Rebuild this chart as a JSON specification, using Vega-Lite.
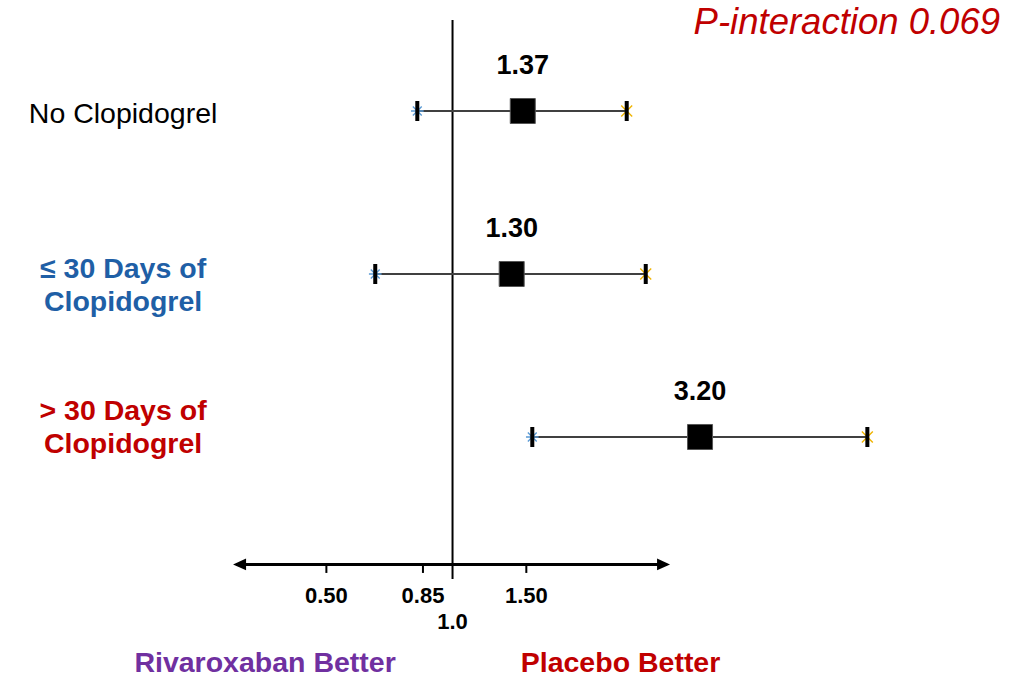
{
  "$schema": "https://vega.github.io/schema/vega-lite/v6.json",
  "width": 1012,
  "height": 685,
  "padding": 0,
  "autosize": "none",
  "background": "white",
  "config": {"view": {"stroke": null}, "axis": {"disable": true}, "font": "Liberation Sans"},
  "datasets": {
    "rows": [
      {"group": "No Clopidogrel", "label": "No Clopidogrel", "row": 1, "est": 1.471, "lo": 0.824, "hi": 2.604, "hrText": "1.37"},
      {"group": "<=30 days", "label": "≤ 30 Days of\nClopidogrel", "row": 2, "est": 1.384, "lo": 0.654, "hi": 2.891, "hrText": "1.30"},
      {"group": ">30 days", "label": "> 30 Days of\nClopidogrel", "row": 3, "est": 3.896, "lo": 1.55, "hi": 9.77, "hrText": "3.20"}
    ],
    "ticks": [
      {"value": 0.5, "text": "0.50", "line": 1},
      {"value": 0.85, "text": "0.85", "line": 1},
      {"value": 1.5, "text": "1.50", "line": 1},
      {"value": 1.0, "text": "1.0", "line": 2}
    ],
    "one": [{}]
  },
  "data": {"name": "rows"},
  "layer": [
    {
      "data": {"name": "one"},
      "mark": {"type": "rule", "color": "black", "strokeWidth": 2},
      "encoding": {
        "x": {"datum": 1, "type": "quantitative", "scale": {"type": "log", "domain": [0.0832, 21.63], "nice": false}, "axis": null},
        "y": {"datum": 0.4417, "type": "quantitative", "scale": {"domain": [0.319, 4.5215], "reverse": true, "nice": false, "zero": false}, "axis": null},
        "y2": {"datum": 3.871}
      }
    },
    {
      "mark": {"type": "rule", "color": "#404040", "strokeWidth": 2},
      "encoding": {
        "x": {"field": "lo", "type": "quantitative"},
        "x2": {"field": "hi"},
        "y": {"field": "row", "type": "quantitative"}
      }
    },
    {
      "mark": {"type": "point", "shape": "M-1,0L1,0M0,-1L0,1M-0.7,-0.7L0.7,0.7M-0.7,0.7L0.7,-0.7", "filled": false, "size": 160, "strokeWidth": 1.4, "color": "#5B9BD5", "opacity": 1},
      "encoding": {
        "x": {"field": "lo", "type": "quantitative"},
        "y": {"field": "row", "type": "quantitative"}
      }
    },
    {
      "mark": {"type": "point", "shape": "M-1,-1L1,1M-1,1L1,-1", "filled": false, "size": 120, "strokeWidth": 1.4, "color": "#F0B400", "opacity": 1},
      "encoding": {
        "x": {"field": "hi", "type": "quantitative"},
        "y": {"field": "row", "type": "quantitative"}
      }
    },
    {
      "mark": {"type": "tick", "orient": "vertical", "thickness": 4, "size": 20, "color": "black", "opacity": 1},
      "encoding": {
        "x": {"field": "lo", "type": "quantitative"},
        "y": {"field": "row", "type": "quantitative"}
      }
    },
    {
      "mark": {"type": "tick", "orient": "vertical", "thickness": 4, "size": 20, "color": "black", "opacity": 1},
      "encoding": {
        "x": {"field": "hi", "type": "quantitative"},
        "y": {"field": "row", "type": "quantitative"}
      }
    },
    {
      "mark": {"type": "point", "shape": "square", "filled": true, "size": 625, "color": "black", "stroke": "#555555", "strokeWidth": 1, "opacity": 1},
      "encoding": {
        "x": {"field": "est", "type": "quantitative"},
        "y": {"field": "row", "type": "quantitative"}
      }
    },
    {
      "mark": {"type": "text", "fontSize": 27, "fontWeight": "bold", "color": "black", "baseline": "middle", "align": "center", "dy": -45},
      "encoding": {
        "x": {"field": "est", "type": "quantitative"},
        "y": {"field": "row", "type": "quantitative"},
        "text": {"field": "hrText"}
      }
    },
    {
      "transform": [{"filter": "datum.row == 1"}],
      "mark": {"type": "text", "fontSize": 28.5, "fontWeight": "normal", "baseline": "middle", "align": "center", "dy": 3},
      "encoding": {
        "x": {"datum": 0.1636, "type": "quantitative"},
        "y": {"field": "row", "type": "quantitative"},
        "text": {"field": "label"},
        "color": {"field": "group", "type": "nominal", "scale": {"domain": ["No Clopidogrel", "<=30 days", ">30 days"], "range": ["#000000", "#1F5FA6", "#C00000"]}, "legend": null}
      }
    },
    {
      "transform": [{"filter": "datum.row == 2"}],
      "mark": {"type": "text", "fontSize": 28.5, "fontWeight": "bold", "baseline": "middle", "align": "center", "lineBreak": "\n", "lineHeight": 33, "dy": -5},
      "encoding": {
        "x": {"datum": 0.1636, "type": "quantitative"},
        "y": {"field": "row", "type": "quantitative"},
        "text": {"field": "label"},
        "color": {"field": "group", "type": "nominal", "legend": null}
      }
    },
    {
      "transform": [{"filter": "datum.row == 3"}],
      "mark": {"type": "text", "fontSize": 28.5, "fontWeight": "bold", "baseline": "middle", "align": "center", "lineBreak": "\n", "lineHeight": 33, "dy": -26},
      "encoding": {
        "x": {"datum": 0.1636, "type": "quantitative"},
        "y": {"field": "row", "type": "quantitative"},
        "text": {"field": "label"},
        "color": {"field": "group", "type": "nominal", "legend": null}
      }
    },
    {
      "data": {"name": "one"},
      "mark": {"type": "rule", "color": "black", "strokeWidth": 3},
      "encoding": {
        "x": {"datum": 0.305, "type": "quantitative"},
        "x2": {"datum": 3.25},
        "y": {"datum": 3.782, "type": "quantitative"}
      }
    },
    {
      "data": {"name": "one"},
      "mark": {"type": "point", "shape": "M-1,0L1,-0.9L1,0.9Z", "filled": true, "size": 169, "color": "black", "opacity": 1},
      "encoding": {
        "x": {"datum": 0.3103, "type": "quantitative"},
        "y": {"datum": 3.782, "type": "quantitative"}
      }
    },
    {
      "data": {"name": "one"},
      "mark": {"type": "point", "shape": "M1,0L-1,-0.9L-1,0.9Z", "filled": true, "size": 169, "color": "black", "opacity": 1},
      "encoding": {
        "x": {"datum": 3.188, "type": "quantitative"},
        "y": {"datum": 3.782, "type": "quantitative"}
      }
    },
    {
      "data": {"name": "ticks"},
      "transform": [{"filter": "datum.line == 1"}],
      "mark": {"type": "rule", "color": "black", "strokeWidth": 2},
      "encoding": {
        "x": {"field": "value", "type": "quantitative"},
        "y": {"datum": 3.782, "type": "quantitative"},
        "y2": {"datum": 3.834}
      }
    },
    {
      "data": {"name": "ticks"},
      "transform": [{"filter": "datum.line == 1"}],
      "mark": {"type": "text", "fontSize": 22, "fontWeight": "bold", "color": "black", "baseline": "middle", "align": "center"},
      "encoding": {
        "x": {"field": "value", "type": "quantitative"},
        "y": {"datum": 3.975, "type": "quantitative"},
        "text": {"field": "text"}
      }
    },
    {
      "data": {"name": "ticks"},
      "transform": [{"filter": "datum.line == 2"}],
      "mark": {"type": "text", "fontSize": 22, "fontWeight": "bold", "color": "black", "baseline": "middle", "align": "center"},
      "encoding": {
        "x": {"field": "value", "type": "quantitative"},
        "y": {"datum": 4.135, "type": "quantitative"},
        "text": {"field": "text"}
      }
    },
    {
      "data": {"name": "one"},
      "mark": {"type": "text", "text": "Rivaroxaban Better", "fontSize": 28.5, "fontWeight": "bold", "color": "#7030A0", "baseline": "middle", "align": "center"},
      "encoding": {
        "x": {"datum": 0.357, "type": "quantitative"},
        "y": {"datum": 4.387, "type": "quantitative"}
      }
    },
    {
      "data": {"name": "one"},
      "mark": {"type": "text", "text": "Placebo Better", "fontSize": 28.5, "fontWeight": "bold", "color": "#C00000", "baseline": "middle", "align": "center"},
      "encoding": {
        "x": {"datum": 2.517, "type": "quantitative"},
        "y": {"datum": 4.387, "type": "quantitative"}
      }
    },
    {
      "data": {"name": "one"},
      "mark": {"type": "text", "text": "P-interaction 0.069", "fontSize": 36.5, "fontStyle": "italic", "color": "#C00000", "baseline": "middle", "align": "right"},
      "encoding": {
        "x": {"datum": 20.25, "type": "quantitative"},
        "y": {"datum": 0.46, "type": "quantitative"}
      }
    }
  ]
}
